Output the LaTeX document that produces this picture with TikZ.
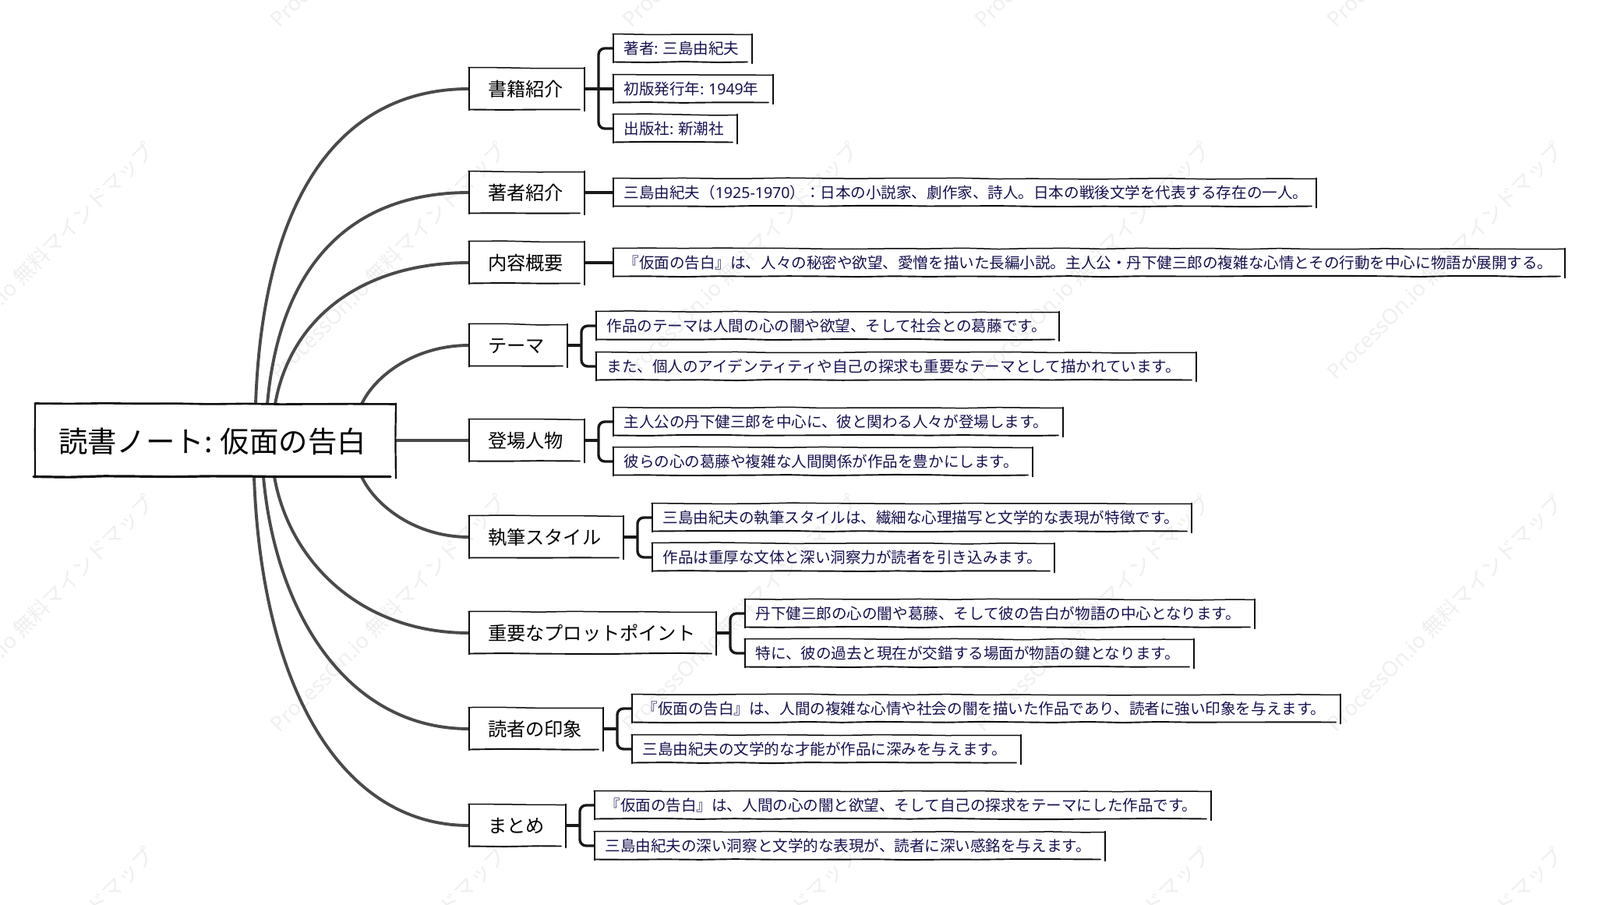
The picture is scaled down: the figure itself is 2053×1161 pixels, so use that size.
\documentclass[tikz,border=0pt]{standalone}
\usepackage{fontspec}
\setmainfont{Noto Sans CJK JP}
\newfontfamily\latinfont{Noto Sans}
\usetikzlibrary{decorations.pathmorphing}

\definecolor{leafink}{HTML}{151150}
\definecolor{trunkgray}{HTML}{4A4A4A}
\definecolor{markgray}{HTML}{EFEFEF}

\newcommand{\colonsp}{:\hspace{0.28em}}

\tikzset{
    rootbox/.style={anchor=west, inner sep=0pt, outer sep=0pt, minimum height=93pt, text=black,
        text width=#1pt, align=left, text height=41pt, text depth=9.6pt,
        execute at begin node={\hspace*{30pt}}, font=\fontsize{37.4}{42}\selectfont},
    topic/.style={anchor=west, inner sep=0pt, outer sep=0pt, minimum height=53pt, text=black,
        text width=#1pt, align=left, text height=25.5pt, text depth=6.2pt,
        execute at begin node={\hspace*{24pt}}, font=\fontsize{24.2}{28}\selectfont},
    leaf/.style={anchor=west, inner sep=0pt, outer sep=0pt, minimum height=35pt, text=leafink,
        text width=#1pt, align=left, text height=19.6pt, text depth=4pt,
        execute at begin node={\hspace*{13.5pt}}, font=\fontsize{19.55}{23}\selectfont},
    trunk/.style={draw=trunkgray, line width=3.9pt},
    twig/.style={draw=black!90, line width=3.4pt},
    sketchline/.style={draw=black!95, line width=1.5pt, line cap=round, rounded corners=2pt, decorate,
        decoration={random steps, segment length=45pt, amplitude=0.7pt}},
    watermark/.style={text=markgray, rotate=45, font=\fontsize{27}{32}\selectfont}
}

\begin{document}
\begin{tikzpicture}[x=1pt, y=1pt]
    \useasboundingbox (0,0) rectangle (2053,-1161);

    \foreach \mx in {46,498,950,1402,1854}
        \foreach \my in {117,-335,-787,-1239}
            \node[watermark] (wm\mx\my) at (\mx,\my) {{\latinfont ProcessOn.io} 無料マインドマップ};

    \node[rootbox=463] (root) at (45,-565) {読書ノート\colonsp 仮面の告白};

    \node[topic=148] (bk) at (602,-114) {書籍紹介};
    \node[topic=148] (au) at (602,-247) {著者紹介};
    \node[topic=148] (ct) at (602,-337) {内容概要};
    \node[topic=126] (th) at (602,-443) {テーマ};
    \node[topic=148] (ch) at (602,-565) {登場人物};
    \node[topic=198] (st) at (602,-689) {執筆スタイル};
    \node[topic=317] (pl) at (602,-812) {重要なプロットポイント};
    \node[topic=172] (rd) at (602,-935) {読者の印象};
    \node[topic=124] (sm) at (602,-1059) {まとめ};

    \node[leaf=178] (bk1) at (787,-62) {著者\colonsp 三島由紀夫};
    \node[leaf=205] (bk2) at (787,-114) {初版発行年\colonsp {\latinfont 1949}年};
    \node[leaf=159] (bk3) at (787,-165) {出版社\colonsp 新潮社};
    \node[leaf=902] (au1) at (787,-247) {三島由紀夫（{\latinfont 1925-1970}）：日本の小説家、劇作家、詩人。日本の戦後文学を代表する存在の一人。};
    \node[leaf=1221] (ct1) at (787,-337) {『仮面の告白』は、人々の秘密や欲望、愛憎を描いた長編小説。主人公・丹下健三郎の複雑な心情とその行動を中心に物語が展開する。};
    \node[leaf=594] (th1) at (765,-418) {作品のテーマは人間の心の闇や欲望、そして社会との葛藤です。};
    \node[leaf=770] (th2) at (765,-470) {また、個人のアイデンティティや自己の探求も重要なテーマとして描かれています。};
    \node[leaf=577] (ch1) at (787,-541) {主人公の丹下健三郎を中心に、彼と関わる人々が登場します。};
    \node[leaf=538] (ch2) at (787,-592) {彼らの心の葛藤や複雑な人間関係が作品を豊かにします。};
    \node[leaf=692] (st1) at (837,-664) {三島由紀夫の執筆スタイルは、繊細な心理描写と文学的な表現が特徴です。};
    \node[leaf=516] (st2) at (837,-715) {作品は重厚な文体と深い洞察力が読者を引き込みます。};
    \node[leaf=654] (pl1) at (956,-787) {丹下健三郎の心の闇や葛藤、そして彼の告白が物語の中心となります。};
    \node[leaf=576] (pl2) at (956,-838) {特に、彼の過去と現在が交錯する場面が物語の鍵となります。};
    \node[leaf=909] (rd1) at (811,-909) {『仮面の告白』は、人間の複雑な心情や社会の闇を描いた作品であり、読者に強い印象を与えます。};
    \node[leaf=499] (rd2) at (811,-961) {三島由紀夫の文学的な才能が作品に深みを与えます。};
    \node[leaf=791] (sm1) at (763,-1033) {『仮面の告白』は、人間の心の闇と欲望、そして自己の探求をテーマにした作品です。};
    \node[leaf=655] (sm2) at (763,-1085) {三島由紀夫の深い洞察と文学的な表現が、読者に深い感銘を与えます。};

    % root to topics
    \draw[trunk] ([xshift=283pt]root.north west) to[out=88, in=180, out distance=260pt, in distance=170pt] (bk.west);
    \draw[trunk] ([xshift=298pt]root.north west) to[out=85, in=180, out distance=170pt, in distance=160pt] (au.west);
    \draw[trunk] ([xshift=308pt]root.north west) to[out=80, in=180, out distance=110pt, in distance=140pt] (ct.west);
    \draw[trunk] ([xshift=419pt]root.north west) to[out=65, in=180, out distance=40pt, in distance=70pt] (th.west);
    \draw[trunk] (root.east) -- (ch.west);
    \draw[trunk] ([xshift=419pt]root.south west) to[out=-65, in=180, out distance=40pt, in distance=70pt] (st.west);
    \draw[trunk] ([xshift=307pt]root.south west) to[out=-80, in=180, out distance=110pt, in distance=140pt] (pl.west);
    \draw[trunk] ([xshift=293pt]root.south west) to[out=-85, in=180, out distance=170pt, in distance=160pt] (rd.west);
    \draw[trunk] ([xshift=281pt]root.south west) to[out=-88, in=180, out distance=260pt, in distance=170pt] (sm.west);

    % topics to leaves
    \draw[twig] (bk.east) -- (bk2.west);
    \draw[twig, rounded corners=8pt] (bk1.west) -| ([xshift=18pt]bk.east) |- (bk3.west);
    \draw[twig] (au.east) -- (au1.west);
    \draw[twig] (ct.east) -- (ct1.west);
    \foreach \t/\u/\d in {th/th1/th2, ch/ch1/ch2, st/st1/st2, pl/pl1/pl2, rd/rd1/rd2, sm/sm1/sm2} {
        \draw[twig] (\t.east) -- ([xshift=18pt]\t.east);
        \draw[twig, rounded corners=8pt] (\u.west) -| ([xshift=18pt]\t.east) |- (\d.west);
    }

    % rough outlines
    \foreach \n in {bk,au,ct,th,ch,st,pl,rd,sm,bk1,bk2,bk3,au1,ct1,th1,th2,ch1,ch2,st1,st2,pl1,pl2,rd1,rd2,sm1,sm2} {
        \draw[sketchline] ([shift={(-1pt,1pt)}]\n.north west) -- (\n.north east);
        \draw[sketchline] ([yshift=1pt]\n.north west) -- ([yshift=-1pt]\n.south west);
        \draw[sketchline] ([yshift=1pt]\n.north east) -- ([yshift=-2pt]\n.south east);
        \draw[sketchline, line width=1.9pt] (\n.south west) -- ([xshift=-6pt]\n.south east);
    }
    \draw[sketchline, line width=2.6pt] ([yshift=1pt]root.north west) -- (root.north east);
    \draw[sketchline, line width=2.2pt] ([yshift=1pt]root.north west) -- ([yshift=-1pt]root.south west);
    \draw[sketchline, line width=2.2pt] ([yshift=1pt]root.north east) -- ([yshift=-2pt]root.south east);
    \draw[sketchline, line width=3.2pt] ([xshift=-2pt]root.south west) -- ([xshift=-7pt]root.south east);
\end{tikzpicture}
\end{document}
